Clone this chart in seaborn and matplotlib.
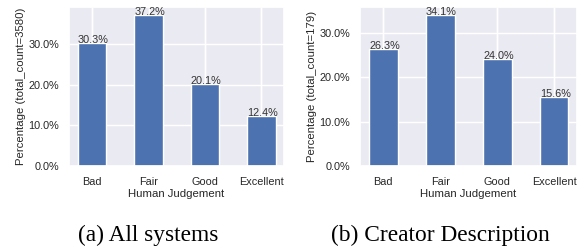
import matplotlib
matplotlib.use("Agg")
import matplotlib.pyplot as plt
import seaborn as sns
import pandas as pd
from matplotlib.ticker import PercentFormatter

categories = ["Bad", "Fair", "Good", "Excellent"]
all_systems = [30.3, 37.2, 20.1, 12.4]
creator_desc = [26.3, 34.1, 24.0, 15.6]
ylabels = ["Percentage (total_count=3580)", "Percentage (total_count=179)"]
captions = ["(a) All systems", "(b) Creator Description"]
xlabel = "Human Judgement"

sns.set_theme(style="darkgrid")
plt.rcParams['font.family'] = ['Liberation Sans', 'DejaVu Sans']

fig = plt.figure(figsize=(5.84, 2.49), dpi=100)
positions = [[69/584, 83/249, 215/584, 159/249], [360/584, 83/249, 217/584, 159/249]]
cap_x = [148/584, 440/584]

for pos, vals, ylab, cap, cx in zip(positions, [all_systems, creator_desc], ylabels, captions, cap_x):
    ax = fig.add_axes(pos)
    df = pd.DataFrame({"cat": categories, "pct": vals})
    sns.barplot(data=df, x="cat", y="pct", color="#4C72B0", saturation=1, width=0.5, ax=ax)
    ax.set_xlim(-0.41, 3.4)
    ax.set_ylim(0, max(vals) * 1.05)
    ax.set_xticks(range(len(categories)), categories)
    ax.set_yticks([0, 10, 20, 30])
    ax.yaxis.set_major_formatter(PercentFormatter(decimals=1))
    ax.tick_params(axis='both', labelsize=7.8, length=0, colors='.15')
    ax.tick_params(axis='y', pad=7)
    ax.tick_params(axis='x', pad=8)
    ax.grid(True, axis='both', color='white', linewidth=1.0)
    ax.vlines(range(len(categories)), 0, 1, transform=ax.get_xaxis_transform(),
              color='white', linewidth=1.0, zorder=0.6)
    ax.set_axisbelow(True)
    ax.set_xlabel(xlabel, fontsize=8.2, labelpad=1, color='.15')
    ax.set_ylabel(ylab, fontsize=8.2, labelpad=2, color='.15')
    for p in ax.patches:
        ax.annotate(f"{p.get_height():.1f}%", (p.get_x(), p.get_height()),
                    ha='left', va='baseline', fontsize=7.8, color='.2')
    fig.text(cx, (249 - 235.5) / 249, cap, ha='center', va='center',
             fontsize=16.8, family=['Liberation Serif', 'DejaVu Serif'], color='black')

fig.savefig("out.png", dpi=100)
